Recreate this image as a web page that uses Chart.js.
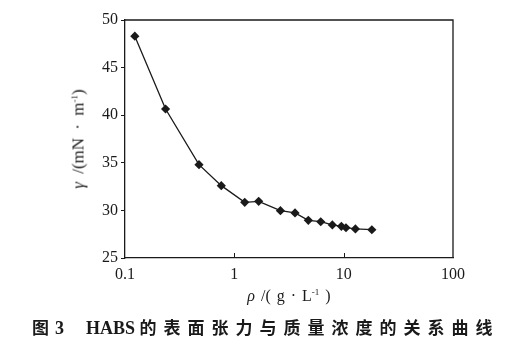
<!DOCTYPE html>
<html>
<head>
<meta charset="utf-8">
<script src="https://cdn.jsdelivr.net/npm/chart.js@4"></script>
<style>
  html, body { margin: 0; padding: 0; background: #fff; }
  #wrap { position: relative; width: 517px; height: 350px; }
  .lbl { position: absolute; color: #1a1a1a; font-family: 'Liberation Serif', serif; font-size: 16px; white-space: nowrap; line-height: 1; }
  .lbl sup { font-size: 9px; vertical-align: 6px; }
  #ytitle { left: 78px; top: 139px; font-size: 17px; transform: translate(-50%, -50%) rotate(-90deg); word-spacing: 4px; }
  #xtitle { left: 289px; top: 296px; transform: translate(-50%, -50%); word-spacing: 2px; }
  #caption { left: 32px; top: 318px; font-size: 18px; font-weight: bold; }
  #caption .cjk { font-family: 'Noto Sans CJK SC', sans-serif; font-size: 17px; letter-spacing: 7px; }
</style>
</head>
<body>
<div id="wrap">
  <canvas id="tensionChart"></canvas>
  <div class="lbl" id="ytitle"><i>γ</i> /(mN · m<sup>-1</sup>)</div>
  <div class="lbl" id="xtitle"><i>ρ</i> /( g · L<sup>-1</sup> )</div>
  <div class="lbl" id="caption"><span class="cjk" style="letter-spacing:6px">图</span>3<span style="margin-left:22px">HABS</span> <span class="cjk">的表面张力与质量浓度的关系曲线</span></div>
</div>
<script>
// surface tension vs mass concentration
const concentration = [0.123, 0.235, 0.475, 0.76, 1.245, 1.67, 2.64, 3.59, 4.75, 6.17, 7.88, 9.53, 10.5, 12.8, 18.1];
const tension = [48.3, 40.65, 34.8, 32.6, 30.85, 30.95, 29.97, 29.73, 28.96, 28.81, 28.47, 28.33, 28.18, 28.05, 27.97];
const xTicks = [0.1, 1, 10, 100];
const yTicks = [25, 30, 35, 40, 45, 50];

const serif = "'Liberation Serif', 'Times New Roman', serif";
const ink = '#1a1a1a';

// closes the box and puts the small inward ticks on the x axis
const frame = {
    id: 'frame',
    afterDraw(chart) {
        const {ctx, chartArea: a, scales: {x}} = chart;
        ctx.save();
        ctx.strokeStyle = ink;
        ctx.lineWidth = 1.3;
        ctx.beginPath();
        ctx.moveTo(a.left, a.top);
        ctx.lineTo(a.right, a.top);
        ctx.lineTo(a.right, a.bottom);
        ctx.stroke();
        ctx.lineWidth = 1;
        xTicks.slice(1, -1).forEach(v => {
            const px = Math.round(x.getPixelForValue(v)) + 0.5;
            ctx.beginPath();
            ctx.moveTo(px, a.bottom);
            ctx.lineTo(px, a.bottom - 5);
            ctx.stroke();
        });
        ctx.restore();
    }
};

new Chart(document.getElementById('tensionChart'), {
    type: 'line',
    data: {
        labels: concentration,
        datasets: [{
            data: concentration.map((c, i) => ({x: c, y: tension[i]})),
            borderColor: ink,
            borderWidth: 1.3,
            backgroundColor: ink,
            pointStyle: 'rectRot',
            pointRadius: 4.6,
            pointBorderWidth: 0,
            tension: 0
        }]
    },
    options: {
        responsive: true,
        maintainAspectRatio: false,
        animation: false,
        layout: { padding: { top: 20, right: 64, left: 0, bottom: 38 } },
        scales: {
            x: {
                type: 'logarithmic',
                min: 0.1,
                max: 100,
                afterBuildTicks: axis => { axis.ticks = xTicks.map(v => ({value: v})); },
                afterFit: axis => { axis.height = 54; },
                grid: { drawOnChartArea: false, drawTicks: false },
                border: { display: true, color: ink, width: 1.3 },
                ticks: {
                    color: ink,
                    padding: 7,
                    font: { family: serif, size: 16 },
                    callback: v => String(v)
                }
            },
            y: {
                min: 25,
                max: 50,
                afterBuildTicks: axis => { axis.ticks = yTicks.map(v => ({value: v})); },
                afterFit: axis => { axis.width = 125; },
                grid: { drawOnChartArea: false, drawTicks: true, tickLength: 4, color: ink },
                border: { display: true, color: ink, width: 1.3 },
                ticks: {
                    color: ink,
                    padding: 3,
                    font: { family: serif, size: 16 }
                }
            }
        },
        plugins: {
            legend: { display: false },
            tooltip: { enabled: false },
            title: { display: false }
        }
    },
    plugins: [frame]
});
</script>
</body>
</html>
